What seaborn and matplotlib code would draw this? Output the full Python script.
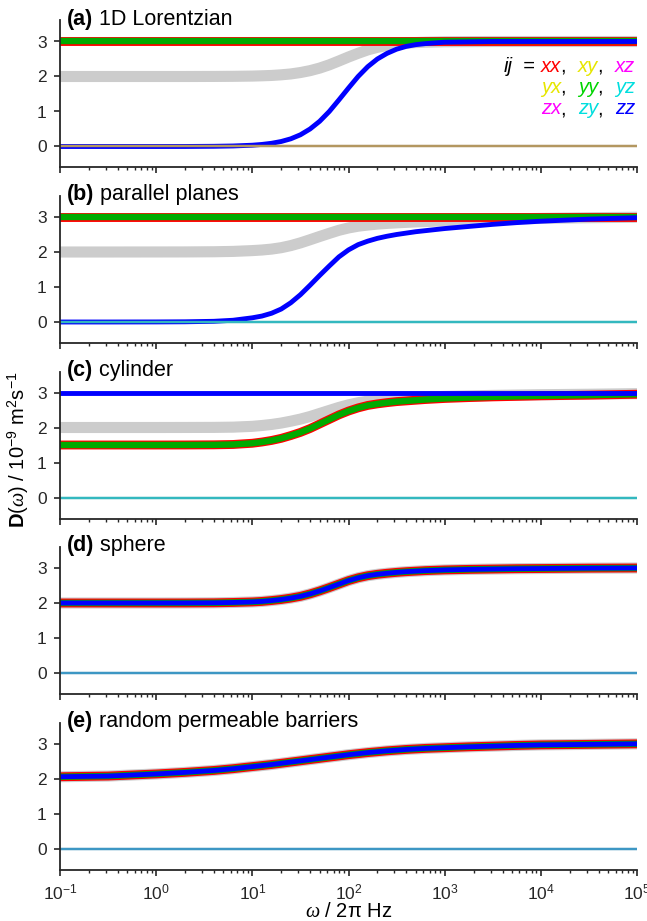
import matplotlib
matplotlib.use("Agg")
import matplotlib.pyplot as plt
import numpy as np
import seaborn as sns
from matplotlib.ticker import LogLocator, FuncFormatter, NullFormatter

# frequency grid (log10 of omega / 2pi in Hz), denser where the curves bend
LOG_F = [-1.0, -0.5, 0.0, 0.3, 0.6, 0.8,
         1.0, 1.1, 1.2, 1.3, 1.4, 1.5, 1.6, 1.7, 1.8, 1.9,
         2.0, 2.1, 2.2, 2.3, 2.4, 2.5, 2.6, 2.7, 2.8,
         3.0, 3.25, 3.5, 3.75, 4.0, 4.5, 5.0]
N = len(LOG_F)
FLAT_3 = [3.0] * N
FLAT_0 = [0.0] * N

# (a) 1D Lorentzian
A_ZZ = [0.0, 0.0, 0.0, 0.001, 0.006, 0.015,
        0.037, 0.059, 0.092, 0.143, 0.22, 0.335, 0.50, 0.72, 1.00, 1.33,
        1.67, 2.00, 2.28, 2.50, 2.66, 2.78, 2.86, 2.91, 2.94,
        2.98, 2.99, 3.0, 3.0, 3.0, 3.0, 3.0]
A_MEAN = [2.0, 2.0, 2.0, 2.0, 2.002, 2.005,
          2.012, 2.02, 2.03, 2.048, 2.073, 2.113, 2.167, 2.24, 2.333, 2.443,
          2.557, 2.663, 2.76, 2.833, 2.887, 2.927, 2.953, 2.97, 2.98,
          2.993, 2.997, 3.0, 3.0, 3.0, 3.0, 3.0]

# (b) parallel planes
B_ZZ = [0.0, 0.0, 0.002, 0.006, 0.02, 0.05,
        0.12, 0.17, 0.25, 0.37, 0.55, 0.78, 1.05, 1.33, 1.60, 1.86,
        2.06, 2.21, 2.31, 2.39, 2.45, 2.50, 2.54, 2.58, 2.61,
        2.67, 2.73, 2.79, 2.84, 2.88, 2.94, 2.98]
B_MEAN = [2.0, 2.0, 2.001, 2.002, 2.007, 2.017,
          2.04, 2.057, 2.083, 2.123, 2.183, 2.26, 2.35, 2.443, 2.533, 2.62,
          2.687, 2.737, 2.77, 2.797, 2.817, 2.833, 2.847, 2.86, 2.87,
          2.89, 2.91, 2.93, 2.947, 2.96, 2.98, 2.993]

# (c) cylinder: xx = yy
C_XX = [1.5, 1.5, 1.5, 1.501, 1.505, 1.515,
        1.55, 1.585, 1.63, 1.69, 1.77, 1.86, 1.97, 2.10, 2.23, 2.36,
        2.47, 2.56, 2.63, 2.675, 2.71, 2.74, 2.76, 2.78, 2.80,
        2.83, 2.855, 2.875, 2.89, 2.905, 2.925, 2.95]
C_MEAN = [2.0, 2.0, 2.0, 2.001, 2.003, 2.01,
          2.033, 2.057, 2.087, 2.127, 2.18, 2.24, 2.313, 2.40, 2.487, 2.573,
          2.647, 2.707, 2.753, 2.783, 2.807, 2.827, 2.84, 2.853, 2.867,
          2.887, 2.903, 2.917, 2.927, 2.937, 2.95, 2.967]

# (d) sphere: xx = yy = zz
D_DIAG = [2.0, 2.0, 2.0, 2.001, 2.005, 2.015,
          2.03, 2.045, 2.07, 2.10, 2.14, 2.19, 2.26, 2.345, 2.44, 2.54,
          2.64, 2.72, 2.78, 2.82, 2.85, 2.875, 2.895, 2.91, 2.925,
          2.945, 2.96, 2.97, 2.98, 2.985, 2.995, 3.0]

# (e) random permeable barriers: xx = yy = zz
E_DIAG = [2.05, 2.07, 2.13, 2.175, 2.23, 2.28,
          2.34, 2.37, 2.40, 2.435, 2.47, 2.505, 2.54, 2.575, 2.61, 2.645,
          2.68, 2.71, 2.74, 2.765, 2.79, 2.81, 2.83, 2.845, 2.86,
          2.88, 2.905, 2.925, 2.945, 2.96, 2.975, 2.99]

LABELS = ["(a)", "(b)", "(c)", "(d)", "(e)"]
TITLES = ["1D Lorentzian", "parallel planes", "cylinder", "sphere",
          "random permeable barriers"]
PANEL_XX = [FLAT_3, FLAT_3, C_XX, D_DIAG, E_DIAG]
PANEL_YY = [FLAT_3, FLAT_3, C_XX, D_DIAG, E_DIAG]
PANEL_ZZ = [A_ZZ, B_ZZ, FLAT_3, D_DIAG, E_DIAG]
PANEL_MEAN = [A_MEAN, B_MEAN, C_MEAN, D_DIAG, E_DIAG]
OFFDIAG = ["xy", "xz", "yx", "yz", "zx", "zy"]

# apparent colour of the overlapping zero lines in each panel
ZERO_COLOR = ["#b39760", "#33b8bf", "#33b8bf", "#3d97c4", "#3d97c4"]

RED, YELLOW, MAGENTA = "#ff0000", "#e6e600", "#ff00ff"
GREEN_LINE, GREEN_TXT, CYAN, BLUE = "#00aa00", "#00d400", "#00dede", "#0000ff"
GRAY = "#cccccc"
AXC = "#262626"

sns.set_style("ticks")
plt.rcParams["font.family"] = ["Liberation Sans", "DejaVu Sans"]
plt.rcParams["mathtext.fontset"] = "custom"
plt.rcParams["mathtext.rm"] = "Liberation Sans"
plt.rcParams["mathtext.it"] = "Liberation Serif:italic"
plt.rcParams["mathtext.bf"] = "Liberation Sans:bold"

freq = 10 ** np.array(LOG_F)

fig = plt.figure(figsize=(6.47, 9.21), dpi=100)
W, H = 647.0, 921.0
left, right = 60.0, 637.0
ax_h = 147.0
bottoms = [167.5, 343.0, 518.5, 694.0, 869.5]

axes = []
for i in range(5):
    b = bottoms[i]
    ax = fig.add_axes([left / W, 1 - b / H, (right - left) / W, ax_h / H])
    axes.append(ax)

    sns.lineplot(x=freq, y=PANEL_MEAN[i], ax=ax, color=GRAY, linewidth=8.0)
    sns.lineplot(x=freq, y=PANEL_XX[i], ax=ax, color=RED, linewidth=6.4)
    sns.lineplot(x=freq, y=PANEL_YY[i], ax=ax, color=GREEN_LINE, linewidth=4.6)
    sns.lineplot(x=freq, y=PANEL_ZZ[i], ax=ax, color=BLUE, linewidth=3.5)
    for name in OFFDIAG:
        sns.lineplot(x=freq, y=FLAT_0, ax=ax, color=ZERO_COLOR[i], linewidth=1.5)

    ax.set_xscale("log")
    ax.set_xlim(1e-1, 1e5)
    ax.set_ylim(-0.6, 3.6)
    ax.set_yticks([0, 1, 2, 3])
    ax.xaxis.set_major_locator(LogLocator(base=10, numticks=10))
    ax.xaxis.set_minor_locator(LogLocator(base=10, subs=np.arange(2, 10), numticks=100))
    ax.xaxis.set_minor_formatter(NullFormatter())
    if i < 4:
        ax.xaxis.set_major_formatter(NullFormatter())
    else:
        ax.xaxis.set_major_formatter(FuncFormatter(
            lambda v, p: r"$\mathregular{10^{%d}}$" % int(round(np.log10(v)))))
    ax.set_xlabel("")
    ax.set_ylabel("")
    sns.despine(ax=ax)
    for sp in ("left", "bottom"):
        ax.spines[sp].set_color(AXC)
        ax.spines[sp].set_linewidth(1.3)
    ax.tick_params(which="major", direction="out", length=4.5, width=1.2,
                   color=AXC, labelcolor=AXC, labelsize=12.5, pad=5)
    ax.tick_params(which="minor", direction="out", length=2.5, width=1.0, color=AXC)

    t1 = ax.text(0.012, 1.01, LABELS[i], transform=ax.transAxes, fontsize=15.5,
                 weight="bold", va="center", ha="left", color="black")
    ax.annotate(" " + TITLES[i], xy=(1, 0), xycoords=t1, fontsize=15.5,
                va="bottom", ha="left", color="black")

# component legend in panel (a)
SEP = ",  "
rows = [
    [("ij", "black", "italic"), ("  = ", "black", "normal"), ("xx", RED, "italic"),
     (SEP, "black", "normal"), ("xy", YELLOW, "italic"), (SEP, "black", "normal"),
     ("xz", MAGENTA, "italic")],
    [("yx", YELLOW, "italic"), (SEP, "black", "normal"), ("yy", GREEN_TXT, "italic"),
     (SEP, "black", "normal"), ("yz", CYAN, "italic")],
    [("zx", MAGENTA, "italic"), (SEP, "black", "normal"), ("zy", CYAN, "italic"),
     (SEP, "black", "normal"), ("zz", BLUE, "italic")],
]
row_y = [0.625, 0.48, 0.335]
ax0 = axes[0]
for pieces, y in zip(rows, row_y):
    prev = None
    for s, c, st in reversed(pieces):
        if prev is None:
            prev = ax0.text(0.997, y, s, transform=ax0.transAxes, ha="right",
                            va="bottom", color=c, style=st, fontsize=14.5)
        else:
            prev = ax0.annotate(s, xy=(0, 0), xycoords=prev, ha="right",
                                va="bottom", color=c, style=st, fontsize=14.5)

fig.text(18 / W, 1 - 450 / H,
         r"$\mathbf{D}$($\mathit{\omega}$) / 10$^{-9}$ m$^{2}$s$^{-1}$",
         rotation=90, ha="center", va="center", fontsize=14.5, color="black")
fig.text(348.5 / W, 1 - 911 / H, r"$\mathit{\omega}$ / 2π Hz",
         ha="center", va="center", fontsize=14.5, color="black")

fig.savefig("out.png", dpi=100)
